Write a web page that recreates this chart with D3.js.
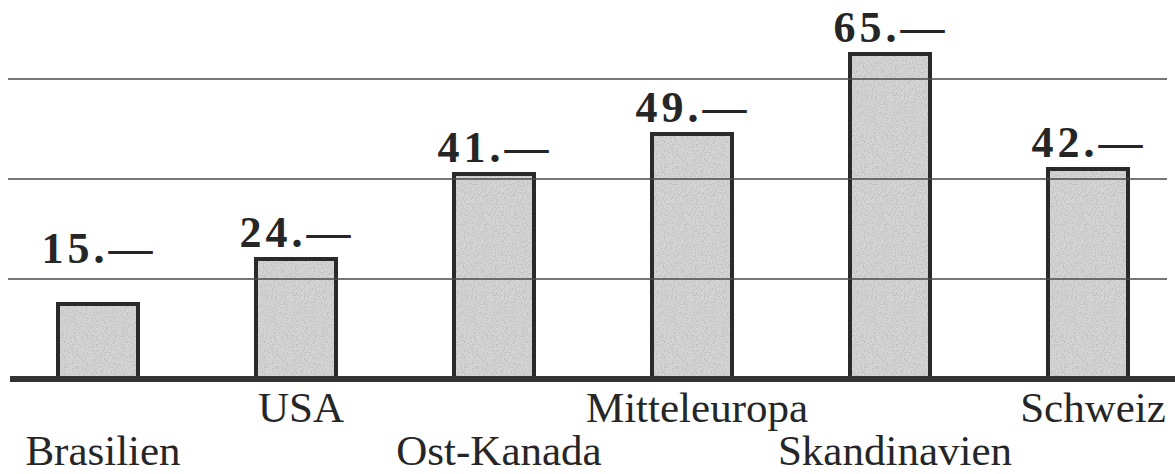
<!DOCTYPE html>
<html>
<head>
<meta charset="utf-8">
<script src="https://cdn.jsdelivr.net/npm/d3@7"></script>
<style>
  html, body { margin: 0; padding: 0; background: #fff; }
  svg { display: block; }
  text { font-family: 'Liberation Serif', 'Times New Roman', serif; fill: #262626; }
</style>
</head>
<body>
<div id="chart"></div>
<script>
// Data
var regions = ['Brasilien', 'USA', 'Ost-Kanada', 'Mitteleuropa', 'Skandinavien', 'Schweiz'];
var values = [15, 24, 41, 49, 65, 42];
var gridTicks = [20, 40, 60];

// Size variables
var width = 1175;
var height = 474;
var baseY = 379;
var barWidth = 80;

var svg = d3.select('#chart')
    .append('svg')
    .attr('width', width)
    .attr('height', height);

// Stippled grey fill, like the printed raster
var defs = svg.append('defs');
var noise = defs.append('filter')
    .attr('id', 'noise')
    .attr('x', 0).attr('y', 0)
    .attr('width', 1).attr('height', 1);
noise.append('feTurbulence')
    .attr('type', 'fractalNoise')
    .attr('baseFrequency', 0.9)
    .attr('numOctaves', 2)
    .attr('seed', 3)
    .attr('result', 'n');
noise.append('feColorMatrix')
    .attr('in', 'n')
    .attr('type', 'matrix')
    .attr('values', '0 0 0 0 0.45  0 0 0 0 0.45  0 0 0 0 0.45  2.2 0 0 0 -0.95');

var pattern = defs.append('pattern')
    .attr('id', 'stipple')
    .attr('patternUnits', 'userSpaceOnUse')
    .attr('width', 200)
    .attr('height', 200);
pattern.append('rect')
    .attr('width', 200)
    .attr('height', 200)
    .attr('fill', '#d6d6d6');
pattern.append('rect')
    .attr('width', 200)
    .attr('height', 200)
    .attr('fill', '#000')
    .attr('filter', 'url(#noise)');

// Scales
var xScale = d3.scalePoint()
    .domain(regions)
    .range([98, 1088]);

var yScale = d3.scaleLinear()
    .domain([0, 60])
    .range([baseY, 79]);

// Bars
svg.selectAll('rect.bar')
    .data(values)
    .enter()
    .append('rect')
    .attr('class', 'bar')
    .attr('x', (d, i) => xScale(regions[i]) - barWidth / 2)
    .attr('y', (d) => yScale(d))
    .attr('width', barWidth)
    .attr('height', (d) => baseY - yScale(d))
    .style('fill', 'url(#stipple)')
    .style('stroke', '#2a2a2a')
    .style('stroke-width', 4);

// Grid lines (printed over the bars)
svg.selectAll('line.grid')
    .data(gridTicks)
    .enter()
    .append('line')
    .attr('class', 'grid')
    .attr('x1', 8)
    .attr('x2', 1167)
    .attr('y1', (d) => yScale(d))
    .attr('y2', (d) => yScale(d))
    .style('stroke', '#4a4a4a')
    .style('stroke-width', 1.5);

// Base line
svg.append('line')
    .attr('x1', 10)
    .attr('x2', width)
    .attr('y1', baseY)
    .attr('y2', baseY)
    .style('stroke', '#333')
    .style('stroke-width', 6);

// Value labels: sit above the bar, or above a grid line if it would cross the text
var labelGap = 12;
var textHeight = 30;
function labelY(v) {
    var y = yScale(v) - labelGap;
    gridTicks.forEach((t) => {
        var gy = yScale(t);
        if (gy < yScale(v) && gy > y - textHeight && gy < y + 4) {
            y = gy - 16;
        }
    });
    return y;
}

svg.selectAll('text.value')
    .data(values)
    .enter()
    .append('text')
    .attr('class', 'value')
    .attr('x', (d, i) => xScale(regions[i]) + 1)
    .attr('y', (d) => labelY(d))
    .attr('text-anchor', 'middle')
    .style('font-size', '44px')
    .style('font-weight', 'bold')
    .style('letter-spacing', '4px')
    .text((d) => d + '.\u2014');

// Category labels, alternating between two rows
svg.selectAll('text.region')
    .data(regions)
    .enter()
    .append('text')
    .attr('class', 'region')
    .attr('x', (d) => xScale(d) + 5)
    .attr('y', (d, i) => i % 2 === 1 ? 422 : 465)
    .attr('text-anchor', 'middle')
    .style('font-size', '43px')
    .text((d) => d);
</script>
</body>
</html>
